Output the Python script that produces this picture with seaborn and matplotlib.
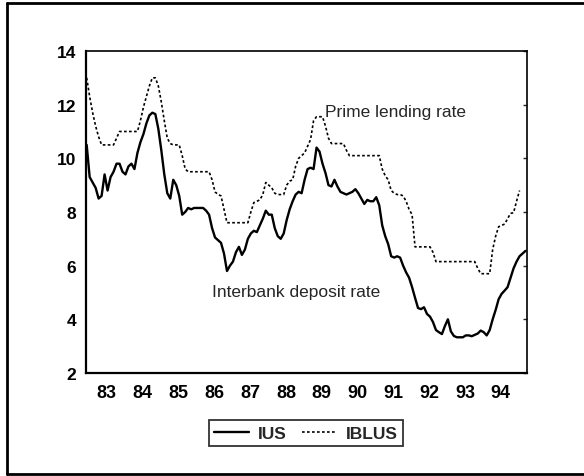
import numpy as np
import pandas as pd
import matplotlib
matplotlib.use("Agg")
import matplotlib.pyplot as plt
from matplotlib.lines import Line2D
import seaborn as sns

# Monthly data, 1982M09 - 1994M12
ius = [10.5, 9.3, 9.1, 8.9,
       8.5, 8.6, 9.4, 8.8, 9.3, 9.5, 9.8, 9.8, 9.5, 9.4, 9.7, 9.8,
       9.6, 10.2, 10.6, 10.9, 11.3, 11.6, 11.7, 11.65, 11.1, 10.3, 9.4, 8.7,
       8.5, 9.2, 9.0, 8.6, 7.9, 8.0, 8.15, 8.1, 8.15, 8.15, 8.15, 8.15,
       8.05, 7.9, 7.4, 7.05, 6.95, 6.85, 6.45, 5.8, 6.0, 6.15, 6.5, 6.7,
       6.4, 6.6, 7.0, 7.2, 7.3, 7.25, 7.5, 7.75, 8.05, 7.9, 7.9, 7.4,
       7.1, 7.0, 7.2, 7.7, 8.1, 8.4, 8.65, 8.75, 8.7, 9.2, 9.6, 9.65,
       9.6, 10.4, 10.25, 9.8, 9.45, 9.0, 8.95, 9.2, 8.95, 8.75, 8.7, 8.65,
       8.7, 8.75, 8.85, 8.7, 8.5, 8.3, 8.45, 8.4, 8.4, 8.55, 8.25, 7.5,
       7.1, 6.8, 6.35, 6.3, 6.35, 6.3, 6.0, 5.75, 5.55, 5.2, 4.8, 4.42,
       4.38, 4.45, 4.2, 4.1, 3.9, 3.6, 3.52, 3.45, 3.75, 4.0, 3.55, 3.38,
       3.33, 3.33, 3.33, 3.4, 3.4, 3.37, 3.42, 3.47, 3.58, 3.52, 3.4, 3.6,
       4.0, 4.35, 4.75, 4.95, 5.07, 5.2, 5.55, 5.9, 6.15, 6.35, 6.45, 6.55]

iblus = [13.0, 12.3, 11.7, 11.2,
         10.8, 10.5, 10.5, 10.5, 10.5, 10.5, 10.75, 11.0, 11.0, 11.0, 11.0, 11.0,
         11.0, 11.0, 11.4, 11.9, 12.3, 12.7, 13.0, 13.0, 12.7, 12.1, 11.4, 10.75,
         10.55, 10.5, 10.5, 10.5, 10.1, 9.6, 9.5, 9.5, 9.5, 9.5, 9.5, 9.5,
         9.5, 9.5, 9.2, 8.75, 8.65, 8.6, 8.1, 7.6, 7.6, 7.6, 7.6, 7.6,
         7.6, 7.6, 7.6, 8.0, 8.35, 8.4, 8.45, 8.65, 9.1, 9.0, 8.9, 8.7,
         8.65, 8.65, 8.65, 9.0, 9.15, 9.2, 9.7, 10.0, 10.1, 10.2, 10.45, 10.7,
         11.4, 11.55, 11.55, 11.55, 11.2, 10.75, 10.55, 10.55, 10.55, 10.55, 10.55, 10.3,
         10.1, 10.1, 10.1, 10.1, 10.1, 10.1, 10.1, 10.1, 10.1, 10.1, 10.1, 9.6,
         9.35, 9.2, 8.8, 8.7, 8.65, 8.65, 8.6, 8.4, 8.1, 7.9, 6.7, 6.7,
         6.7, 6.7, 6.7, 6.7, 6.5, 6.15, 6.15, 6.15, 6.15, 6.15, 6.15, 6.15,
         6.15, 6.15, 6.15, 6.15, 6.15, 6.15, 6.15, 5.9, 5.7, 5.7, 5.7, 5.7,
         6.6, 7.1, 7.45, 7.5, 7.55, 7.75, 7.95, 7.97, 8.4, 8.8, np.nan, np.nan]

years = list(range(1983, 1995))
year_labels = [str(y)[2:] for y in years]

months = pd.period_range("1982-09", "1994-12", freq="M")
t = months.year + (months.month - 0.5) / 12

df = pd.DataFrame({"t": np.concatenate([t, t]),
                   "value": ius + iblus,
                   "series": ["IUS"] * len(t) + ["IBLUS"] * len(t)})

sns.set_style("white")
plt.rcParams["font.family"] = ["Liberation Sans", "DejaVu Sans"]

fig = plt.figure(figsize=(5.84, 4.77), dpi=100)
ax = fig.add_axes([0.1473, 0.216, 0.7551, 0.675])

sns.lineplot(data=df, x="t", y="value", hue="series", style="series",
             palette={"IUS": "black", "IBLUS": "black"},
             dashes={"IUS": "", "IBLUS": (1.6, 1.4)},
             size="series", sizes={"IUS": 1.7, "IBLUS": 1.2},
             legend=False, ax=ax)

ax.set_xlim(1982.69, 1995.0)
ax.set_ylim(2, 14)
ax.set_xlabel("")
ax.set_ylabel("")

# axes styling
for side in ["left", "bottom"]:
    ax.spines[side].set_linewidth(1.6)
for side in ["top", "right"]:
    ax.spines[side].set_linewidth(1.2)
for s in ax.spines.values():
    s.set_color("black")

ax.set_yticks(range(2, 15, 2))
ax.tick_params(axis="y", direction="out", length=5, width=1.2, pad=2,
               labelsize=12.5, colors="black")
for lab in ax.get_yticklabels():
    lab.set_fontweight("bold")

ax.set_xticks(list(years) + [1995])
ax.set_xticklabels([])
ax.tick_params(axis="x", which="major", direction="in", length=4, width=1.2)
ax.set_xticks([y + 0.27 for y in years], minor=True)
ax.set_xticklabels(year_labels, minor=True, fontsize=13, fontweight="bold")
ax.tick_params(axis="x", which="minor", length=0, pad=8, colors="black")

sec = ax.secondary_yaxis("right")
sec.set_yticks(range(2, 15, 2))
sec.tick_params(direction="in", length=3, width=1, labelright=False)
sec.spines["right"].set_visible(False)

ax.text(1989.37, 11.76, "Prime lending rate", fontsize=12.5,
        ha="left", va="center")
ax.text(1986.21, 5.02, "Interbank deposit rate", fontsize=12.5,
        ha="left", va="center")

handles = [Line2D([], [], color="black", lw=1.7),
           Line2D([], [], color="black", lw=1.2, dashes=(1.6, 1.4))]
leg = fig.legend(handles, ["IUS", "IBLUS"], loc="center",
                 bbox_to_anchor=(0.524, 0.09), ncol=2, frameon=True,
                 fancybox=False, edgecolor="black",
                 handlelength=2.0, columnspacing=0.9, handletextpad=0.5,
                 borderpad=0.3, prop={"weight": "bold", "size": 12.5})
leg.get_frame().set_linewidth(1.3)

# outer frame (right side lies outside the picture)
fig.add_artist(Line2D([0.012, 1.0], [0.992, 0.992], color="black", lw=2,
                      transform=fig.transFigure))
fig.add_artist(Line2D([0.012, 0.012], [0.004, 0.992], color="black", lw=2,
                      transform=fig.transFigure))
fig.add_artist(Line2D([0.012, 1.0], [0.004, 0.004], color="black", lw=2,
                      transform=fig.transFigure))

fig.savefig("out.png", dpi=100)
